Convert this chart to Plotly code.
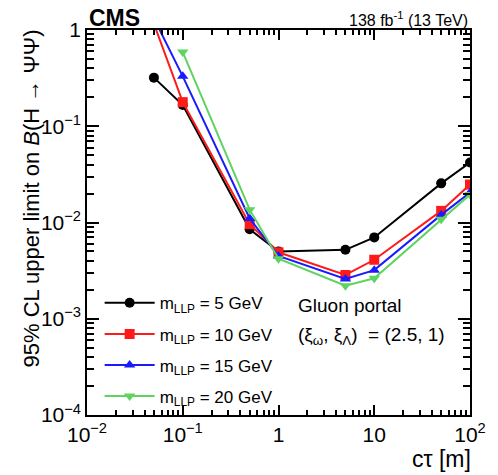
import plotly.graph_objects as go

ctau = [0.05, 0.1, 0.5, 1, 5, 10, 50, 100]
lim_5 = [0.32, 0.166, 0.0085, 0.0050, 0.0052, 0.0070, 0.0255, 0.042]
lim_10 = [1.16, 0.178, 0.0096, 0.0049, 0.00285, 0.0041, 0.0132, 0.0248]
lim_15 = [1.32, 0.33, 0.011, 0.00449, 0.00259, 0.0032, 0.0120, 0.0205]
ctau_20 = [0.1, 0.5, 1, 5, 10, 50, 100]
lim_20 = [0.59, 0.0136, 0.0042, 0.0022, 0.00263, 0.0108, 0.0195]

names = ["m<sub>LLP</sub> = 5 GeV", "m<sub>LLP</sub> = 10 GeV",
         "m<sub>LLP</sub> = 15 GeV", "m<sub>LLP</sub> = 20 GeV"]
colors = ["#000000", "#ff1a1a", "#1a1aff", "#5fd35f"]
symbols = ["circle", "square", "triangle-up", "triangle-down"]

xtickvals = [0.01, 0.1, 1, 10, 100]
xticktext = ["10<sup>\u22122</sup>", "10<sup>\u22121</sup>", "1", "10", "10<sup>2</sup>"]
ytickvals = [1e-4, 1e-3, 1e-2, 1e-1, 1]
yticktext = ["10<sup>\u22124</sup>", "10<sup>\u22123</sup>", "10<sup>\u22122</sup>", "10<sup>\u22121</sup>", "1"]
minor_x = [m * 10.0 ** e for e in range(-2, 2) for m in range(2, 10)]
minor_y = [m * 10.0 ** e for e in range(-4, 0) for m in range(2, 10)]

XR = [-2, 2]
YR = [-4, 0]
FONT = "Liberation Sans, Arial, sans-serif"

axis_style = dict(showline=True, linecolor="black", linewidth=1.5, showgrid=False, zeroline=False,
                  ticks="inside", tickcolor="black", tickwidth=1.5, tickmode="array")

fig = go.Figure()
series = [(ctau, lim_5), (ctau, lim_10), (ctau, lim_15), (ctau_20, lim_20)]
for i, ((xs, ys), n, c, s) in enumerate(zip(series, names, colors, symbols)):
    fig.add_trace(go.Scatter(x=xs, y=ys, mode="lines+markers", name=n, legendgroup=str(i),
                             line=dict(color=c, width=2),
                             marker=dict(color=c, symbol=s, size=10)))

# extra overlay axes carry the minor ticks and the mirrored ticks on top/right
fig.add_trace(go.Scatter(x=[], y=[], xaxis="x2", yaxis="y2", showlegend=False, hoverinfo="skip"))

fig.update_layout(
    xaxis=dict(type="log", range=XR, tickvals=xtickvals, ticktext=xticktext, ticklen=10, mirror="ticks",
               tickfont=dict(family=FONT, size=21, color="black"), **axis_style),
    yaxis=dict(type="log", range=YR, tickvals=ytickvals, ticktext=yticktext, ticklen=12, mirror="ticks",
               tickfont=dict(family=FONT, size=21, color="black"), **axis_style),
    xaxis2=dict(type="log", range=XR, tickvals=minor_x, ticklen=5, overlaying="x", anchor="y2",
                showticklabels=False, mirror="ticks", **axis_style),
    yaxis2=dict(type="log", range=YR, tickvals=minor_y, ticklen=7, overlaying="y", anchor="x2",
                showticklabels=False, mirror="ticks", **axis_style),
)

ann = [
    dict(text="<b>CMS</b>", x=0, y=1.0, xref="paper", yref="paper", xanchor="left", yanchor="bottom",
         showarrow=False, font=dict(family=FONT, size=23, color="black"), yshift=-3),
    dict(text="138 fb<sup>-1</sup> (13 TeV)", x=1, y=1.0, xref="paper", yref="paper", xanchor="right",
         yanchor="bottom", showarrow=False, font=dict(family=FONT, size=16, color="black"), yshift=-1),
    dict(text="c\u03c4 [m]", x=1.005, y=-0.15, xref="paper", yref="paper", xanchor="right", yanchor="bottom",
         showarrow=False, borderpad=0, font=dict(family=FONT, size=23, color="black")),
    dict(text="95% CL upper limit on <i>B</i>(H \u2192 \u03a8\u03a8)", x=-0.145, y=1.0, xref="paper",
         yref="paper", xanchor="center", yanchor="top", textangle=-90, showarrow=False,
         font=dict(family=FONT, size=22, color="black"), yshift=3),
    dict(text="Gluon portal", x=0.545, y=0.285, xref="paper", yref="paper", xanchor="left", yanchor="middle",
         showarrow=False, font=dict(family=FONT, size=19, color="black")),
    dict(text="(\u03be<sub>\u03c9</sub>, \u03be<sub>\u039b</sub>)  = (2.5, 1)", x=0.545, y=0.204, xref="paper",
         yref="paper", xanchor="left", yanchor="middle", showarrow=False,
         font=dict(family=FONT, size=19, color="black")),
]

fig.update_layout(
    width=498, height=475,
    margin=dict(l=87, r=18, t=30, b=60),
    paper_bgcolor="white", plot_bgcolor="white",
    showlegend=True,
    legend=dict(x=0.033, y=0.337, xanchor="left", yanchor="top", bgcolor="rgba(0,0,0,0)",
                font=dict(family=FONT, size=17, color="black"), itemwidth=50, tracegroupgap=6),
    annotations=ann,
)

fig.write_html("out.html")
